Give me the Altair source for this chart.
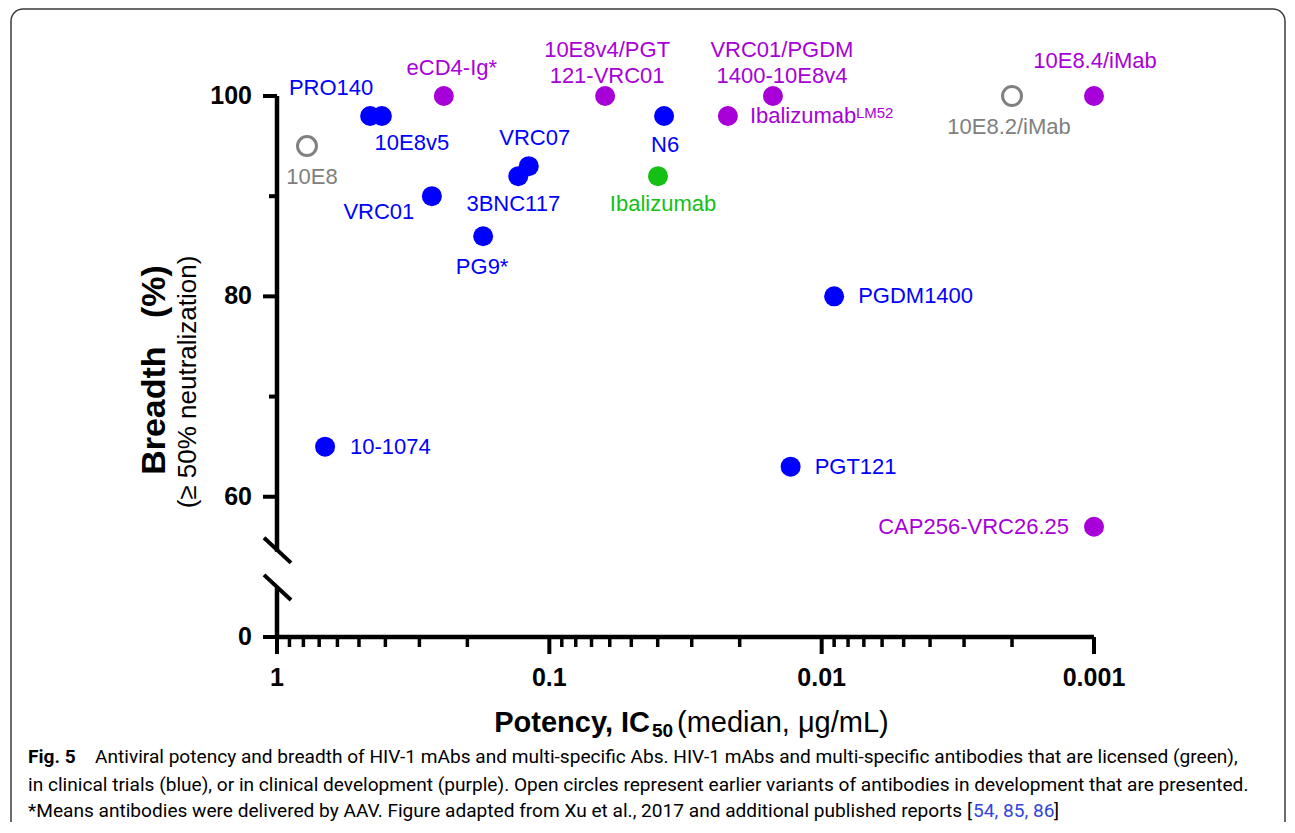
import altair as alt
import pandas as pd

# ---------------- data ----------------
names = ["10E8", "PRO140", "10E8v5", "eCD4-Ig*", "VRC01", "PG9*", "3BNC117", "VRC07",
         "10E8v4/PGT121-VRC01", "N6", "Ibalizumab", "IbalizumabLM52",
         "VRC01/PGDM1400-10E8v4", "PGDM1400", "10-1074", "PGT121",
         "10E8.2/iMab", "10E8.4/iMab", "CAP256-VRC26.25"]
labels = ["10E8", "PRO140", "10E8v5", "eCD4-Ig*", "VRC01", "PG9*", "3BNC117", "VRC07",
          "10E8v4/PGT\n121-VRC01", "N6", "Ibalizumab", "Ibalizumab",
          "VRC01/PGDM\n1400-10E8v4", "PGDM1400", "10-1074", "PGT121",
          "10E8.2/iMab", "10E8.4/iMab", "CAP256-VRC26.25"]
potency = [0.776, 0.455, 0.412, 0.244, 0.270, 0.175, 0.130, 0.119,
           0.0624, 0.0379, 0.0399, 0.0221,
           0.0151, 0.0090, 0.666, 0.0130,
           0.0020, 0.0010, 0.0010]
breadth = [95, 98, 98, 100, 90, 86, 92, 93,
           100, 98, 92, 98,
           100, 80, 65, 63,
           100, 100, 57]
status = ["earlier", "trial", "trial", "development", "trial", "trial", "trial", "trial",
          "development", "trial", "licensed", "development",
          "development", "trial", "trial", "trial",
          "earlier", "development", "development"]

status_domain = ["licensed", "trial", "development", "earlier"]
status_colors = ["#14C014", "#0000FF", "#A800D8", "#808080"]

x_major = [1, 0.1, 0.01, 0.001]
x_major_labels = ["1", "0.1", "0.01", "0.001"]
x_minor = [0.9, 0.8, 0.7, 0.6, 0.5, 0.4, 0.3, 0.2,
           0.09, 0.08, 0.07, 0.06, 0.05, 0.04, 0.03, 0.02,
           0.009, 0.008, 0.007, 0.006, 0.005, 0.004, 0.003, 0.002]
BREAK_ZERO = 46          # position on the broken axis where "0" is drawn
y_major = [BREAK_ZERO, 60, 80, 100]
y_major_labels = ["0", "60", "80", "100"]
y_minor = [70, 90]
axis_segments_top = [100, 50.9]
axis_segments_bottom = [54.5, BREAK_ZERO]
slash_top = [55.9, 52.2]
slash_bottom = [53.4, 49.7]

x_title_bold = "Potency, IC"
x_title_sub = "50"
x_title_rest = "(median, \u03bcg/mL)"
y_title = "Breadth\u00a0\u00a0\u00a0(%)"
y_subtitle = "(\u2265 50% neutralization)"

cap_fig = "Fig. 5"
cap_l1 = ("Antiviral potency and breadth of HIV-1 mAbs and multi-specific Abs. HIV-1 mAbs and "
          "multi-specific antibodies that are licensed (green),")
cap_l2 = ("in clinical trials (blue), or in clinical development (purple). Open circles represent "
          "earlier variants of antibodies in development that are presented.")
cap_l3 = ("*Means antibodies were delivered by AAV. Figure adapted from Xu et al., 2017 and "
          "additional published reports")
cap_refs = "54, 85, 86"

# ---------------- chart ----------------
df = pd.DataFrame({"name": names, "label": labels, "potency": potency,
                   "breadth": breadth, "status": status})

W, H = 817, 541
FONT = "Liberation Sans"
CAPFONT = "Roboto"

xscale = alt.Scale(type="log", domain=[0.001, 1], reverse=True, nice=False)
yscale = alt.Scale(domain=[BREAK_ZERO, 100], nice=False, zero=False)
color = alt.Color("status:N", scale=alt.Scale(domain=status_domain, range=status_colors),
                  legend=None)

X = lambda: alt.X("potency:Q", scale=xscale, axis=None)
Y = lambda: alt.Y("breadth:Q", scale=yscale, axis=None)

base = alt.Chart(df)

filled = base.transform_filter(alt.datum.status != "earlier").mark_circle(
    size=400, opacity=1).encode(x=X(), y=Y(), color=color)
hollow = base.transform_filter(alt.datum.status == "earlier").mark_point(
    shape="circle", size=360, strokeWidth=3, filled=False, opacity=1).encode(
    x=X(), y=Y(), color=color)

label_layout = {
    "10E8": (5, 31, "center"),
    "PRO140": (-39, -28, "center"),
    "10E8v5": (30, 27, "center"),
    "eCD4-Ig*": (8, -28, "center"),
    "VRC01": (-53, 16, "center"),
    "PG9*": (-1, 31, "center"),
    "3BNC117": (-5, 28, "center"),
    "VRC07": (6, -28, "center"),
    "10E8v4/PGT121-VRC01": (2, -46, "center"),
    "N6": (1, 29, "center"),
    "Ibalizumab": (5, 28, "center"),
    "IbalizumabLM52": (22, 0, "left"),
    "VRC01/PGDM1400-10E8v4": (9, -46, "center"),
    "PGDM1400": (24, 0, "left"),
    "10-1074": (25, 0, "left"),
    "PGT121": (24, 0, "left"),
    "10E8.2/iMab": (-3, 31, "center"),
    "10E8.4/iMab": (1, -35, "center"),
    "CAP256-VRC26.25": (-25, 0, "right"),
}

text_layers = []
for n, (dx, dy, al) in label_layout.items():
    text_layers.append(
        base.transform_filter(alt.datum.name == n).mark_text(
            dx=dx, dy=dy, align=al, baseline="middle", font=FONT, fontSize=22,
            lineBreak="\n", lineHeight=26).encode(
            x=X(), y=Y(), text="label:N", color=color))
# superscript of Ibalizumab(LM52)
text_layers.append(
    base.transform_filter(alt.datum.name == "IbalizumabLM52").mark_text(
        dx=128, dy=-3, align="left", baseline="middle", font=FONT, fontSize=15,
        text="LM52").encode(x=X(), y=Y(), color=color))

# ---- axes drawn through the scales ----
# x axis line
xdom_df = pd.DataFrame({"potency": [x_major[0]], "p2": [x_major[-1]]})
xdomain = alt.Chart(xdom_df).mark_rule(color="black", strokeWidth=4.5).encode(
    x=X(), x2="p2:Q", y=alt.value(H))
# x major ticks + labels
xmaj_df = pd.DataFrame({"potency": x_major, "lab": x_major_labels})
xmajor = alt.Chart(xmaj_df).mark_rule(color="black", strokeWidth=4).encode(
    x=X(), y=alt.value(H), y2=alt.value(H + 17))
xlabels = alt.Chart(xmaj_df).mark_text(
    font=FONT, fontSize=25, fontWeight="bold", color="black", align="center",
    baseline="middle").encode(x=X(), y=alt.value(H + 41), text="lab:N")
# x minor ticks
xminor_df = pd.DataFrame({"potency": x_minor})
xminor = alt.Chart(xminor_df).mark_rule(color="black", strokeWidth=3.5).encode(
    x=X(), y=alt.value(H), y2=alt.value(H + 10))
# y major ticks + labels
ymaj_df = pd.DataFrame({"breadth": y_major, "lab": y_major_labels})
ymajor = alt.Chart(ymaj_df).mark_rule(color="black", strokeWidth=4).encode(
    y=Y(), x=alt.value(-14), x2=alt.value(0))
ylabels = alt.Chart(ymaj_df).mark_text(
    font=FONT, fontSize=25, fontWeight="bold", color="black", align="right",
    baseline="middle").encode(y=Y(), x=alt.value(-25), text="lab:N")
# y minor ticks
yminor_df = pd.DataFrame({"breadth": y_minor})
yminor = alt.Chart(yminor_df).mark_rule(color="black", strokeWidth=4).encode(
    y=Y(), x=alt.value(-8), x2=alt.value(0))
# broken y axis line and break marks
seg_df = pd.DataFrame({"breadth": axis_segments_top, "b2": axis_segments_bottom})
segs = alt.Chart(seg_df).mark_rule(color="black", strokeWidth=4.5).encode(
    y=Y(), y2="b2:Q", x=alt.value(0))
sl_df = pd.DataFrame({"breadth": slash_top, "b2": slash_bottom})
slashes = alt.Chart(sl_df).mark_rule(color="black", strokeWidth=4).encode(
    y=Y(), y2="b2:Q", x=alt.value(-13), x2=alt.value(14))

one = pd.DataFrame({"a": [0]})


def txt(text, x, y, size, weight="normal", align="left", angle=0, col="black",
        font=FONT, baseline="middle"):
    return alt.Chart(one).mark_text(
        text=text, align=align, baseline=baseline, fontSize=size, fontWeight=weight,
        font=font, angle=angle, color=col).encode(x=alt.value(x), y=alt.value(y))


# origin of plot area is page (277, 96)
OX, OY = 277, 96
CS = 19.1
titles = [
    txt(x_title_bold, 650 - OX, 723 - OY, 29, "bold", "right"),
    txt(x_title_sub, 652 - OX, 731 - OY, 19, "bold", "left"),
    txt(x_title_rest, 677 - OX, 723 - OY, 29, "normal", "left"),
    txt(y_title, 155 - OX, 370 - OY, 34, "bold", "center", angle=270),
    txt(y_subtitle, 188 - OX, 382 - OY, 26, "normal", "center", angle=270),
]

caption = [
    txt(cap_fig, 28 - OX, 757 - OY, CS, "bold", "left", font=CAPFONT),
    txt(cap_l1, 95 - OX, 757 - OY, CS, "normal", "left", font=CAPFONT),
    txt(cap_l2, 28 - OX, 785 - OY, CS, "normal", "left", font=CAPFONT),
    txt(cap_l3, 28 - OX, 811 - OY, CS, "normal", "left", font=CAPFONT),
    txt("[", 967 - OX, 811 - OY, CS, "normal", "left", font=CAPFONT),
    txt(cap_refs, 973 - OX, 811 - OY, CS, "normal", "left", col="#3344DD", font=CAPFONT),
    txt("]", 1054 - OX, 811 - OY, CS, "normal", "left", font=CAPFONT),
]

frame = alt.Chart(one).mark_rect(filled=False, fill="transparent", stroke="#3a3a3a",
                                  strokeWidth=1.5, cornerRadius=12).encode(
    x=alt.value(11 - OX), x2=alt.value(1285 - OX), y=alt.value(9 - OY), y2=alt.value(900))

chart = alt.layer(
    frame, xdomain, xmajor, xminor, xlabels, segs, slashes, ymajor, yminor, ylabels,
    filled, hollow, *text_layers, *titles, *caption
).properties(
    width=W, height=H,
    padding={"left": 269, "top": 88, "right": 193, "bottom": 185},
    autosize=alt.AutoSizeParams(type="none"),
    background="white",
).configure_view(stroke=None)

chart.save("out.html", embed_options={"renderer": "svg", "actions": False})
